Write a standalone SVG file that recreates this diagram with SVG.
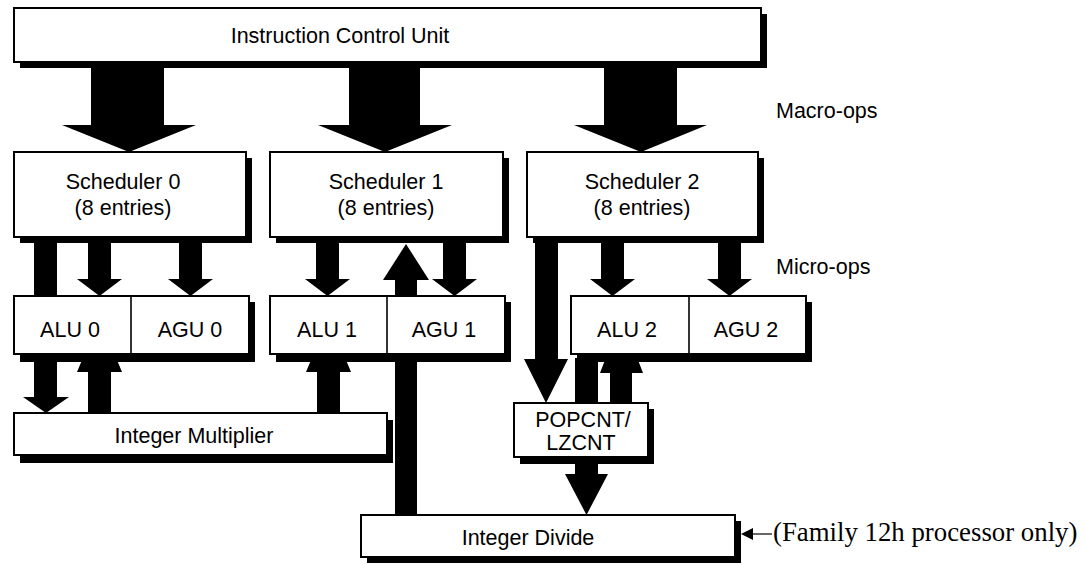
<svg xmlns="http://www.w3.org/2000/svg" width="1085" height="565" viewBox="0 0 1085 565">
  <style>
    .box { fill: #ffffff; stroke: #000000; stroke-width: 2; }
    .shadow { fill: #000000; }
    .div { stroke: #000000; stroke-width: 1.6; }
    .arrow { fill: #000000; stroke: none; }
    .lbl { font-family: "Liberation Sans", Arial, sans-serif; font-size: 21.5px; fill: #000000; text-anchor: middle; }
    .note { font-family: "Liberation Serif", "Times New Roman", serif; font-size: 26.8px; fill: #000000; }
  </style>
  <rect width="1085" height="565" fill="#ffffff"/>

  <!-- connectors: wide block arrows between units -->
  <g id="connectors">
    <!-- macro-ops from the instruction control unit -->
    <polygon class="arrow" points="91,64 164,64 164,125 196,125 129,152 62,125 91,125"/>
    <polygon class="arrow" points="349,64 420,64 420,125 452,125 385,152 318,125 349,125"/>
    <polygon class="arrow" points="604,64 677,64 677,125 707,125 641,152 574,125 604,125"/>

    <!-- scheduler 0 micro-ops -->
    <rect class="arrow" x="34" y="240" width="23" height="56"/>
    <polygon class="arrow" points="88,240 111,240 111,279 122,279 99.5,296 77,279 88,279"/>
    <polygon class="arrow" points="179,240 202,240 202,279 213,279 190.5,296 168,279 179,279"/>

    <!-- scheduler 1 micro-ops -->
    <polygon class="arrow" points="316,240 339,240 339,279 350,279 327.5,296 305,279 316,279"/>
    <polygon class="arrow" points="443,240 466,240 466,279 477,279 454.5,296 432,279 443,279"/>
    <!-- integer divide result back to scheduler 1 -->
    <polygon class="arrow" points="395,515 417,515 417,280 429,280 406,244 383,280 395,280"/>

    <!-- scheduler 2 micro-ops -->
    <polygon class="arrow" points="601,240 624,240 624,279 635,279 612.5,296 590,279 601,279"/>
    <polygon class="arrow" points="718,240 741,240 741,279 752,279 729.5,296 707,279 718,279"/>
    <polygon class="arrow" points="535,240 558,240 558,359 568,359 546,403 524,359 535,359"/>

    <!-- ALU 0 / ALU 1 to and from the integer multiplier -->
    <polygon class="arrow" points="34,360 57,360 57,397 69,397 46,413 23,397 34,397"/>
    <polygon class="arrow" points="88,413 111,413 111,372 122,372 117,360 82,360 77,372 88,372"/>
    <polygon class="arrow" points="317,413 340,413 340,372 351,372 346,360 311,360 306,372 317,372"/>

    <!-- ALU 2 to and from POPCNT/LZCNT -->
    <rect class="arrow" x="575" y="358" width="23" height="45"/>
    <polygon class="arrow" points="610,403 632,403 632,373 643,373 638,360 605,360 600,373 610,373"/>
    <polygon class="arrow" points="575,460 598,460 598,474 608,474 586.5,515 565,474 575,474"/>

    <!-- note pointer -->
    <line x1="752" y1="534" x2="772" y2="534" stroke="#000000" stroke-width="1.2"/>
    <polygon class="arrow" points="741,534 753,528 753,540"/>
  </g>

  <g id="icu">
    <rect class="shadow" x="20" y="14" width="747" height="54"/>
    <rect class="box" x="14" y="8" width="747" height="54"/>
    <text class="lbl" x="340" y="43">Instruction Control Unit</text>
  </g>

  <g id="scheduler0">
    <rect class="shadow" x="20" y="158" width="232" height="85"/>
    <rect class="box" x="14" y="152" width="232" height="85"/>
    <text class="lbl" x="123" y="189">Scheduler 0</text>
    <text class="lbl" x="123" y="215">(8 entries)</text>
  </g>

  <g id="scheduler1">
    <rect class="shadow" x="276" y="158" width="233" height="85"/>
    <rect class="box" x="270" y="152" width="233" height="85"/>
    <text class="lbl" x="386" y="189">Scheduler 1</text>
    <text class="lbl" x="386" y="215">(8 entries)</text>
  </g>

  <g id="scheduler2">
    <rect class="shadow" x="533" y="158" width="231" height="85"/>
    <rect class="box" x="527" y="152" width="231" height="85"/>
    <text class="lbl" x="642" y="189">Scheduler 2</text>
    <text class="lbl" x="642" y="215">(8 entries)</text>
  </g>

  <g id="exec0">
    <rect class="shadow" x="20" y="302" width="235" height="60"/>
    <rect class="box" x="14" y="296" width="235" height="58"/>
    <line class="div" x1="131" y1="296" x2="131" y2="354"/>
    <text class="lbl" x="70" y="337">ALU 0</text>
    <text class="lbl" x="190" y="337">AGU 0</text>
  </g>

  <g id="exec1">
    <rect class="shadow" x="276" y="302" width="235" height="60"/>
    <rect class="box" x="270" y="296" width="235" height="58"/>
    <line class="div" x1="387" y1="296" x2="387" y2="354"/>
    <text class="lbl" x="327" y="337">ALU 1</text>
    <text class="lbl" x="444" y="337">AGU 1</text>
  </g>

  <g id="exec2">
    <rect class="shadow" x="577" y="302" width="235" height="60"/>
    <rect class="box" x="571" y="296" width="235" height="58"/>
    <line class="div" x1="689" y1="296" x2="689" y2="354"/>
    <text class="lbl" x="627" y="337">ALU 2</text>
    <text class="lbl" x="746" y="337">AGU 2</text>
  </g>

  <g id="multiplier">
    <rect class="shadow" x="20" y="420" width="373" height="43"/>
    <rect class="box" x="14" y="413" width="373" height="42"/>
    <text class="lbl" x="194" y="443">Integer Multiplier</text>
  </g>

  <g id="popcnt">
    <rect class="shadow" x="520" y="409" width="134" height="55"/>
    <rect class="box" x="514" y="403" width="134" height="54"/>
    <text class="lbl" x="583" y="427">POPCNT/</text>
    <text class="lbl" x="581" y="450">LZCNT</text>
  </g>

  <g id="divider">
    <rect class="shadow" x="367" y="521" width="374" height="42"/>
    <rect class="box" x="361" y="515" width="374" height="42"/>
    <text class="lbl" x="528" y="545">Integer Divide</text>
  </g>

  <g id="labels">
    <text class="lbl" x="776" y="118" style="text-anchor:start">Macro-ops</text>
    <text class="lbl" x="776" y="274" style="text-anchor:start">Micro-ops</text>
    <text class="note" x="773" y="541">(Family 12h processor only)</text>
  </g>
</svg>
